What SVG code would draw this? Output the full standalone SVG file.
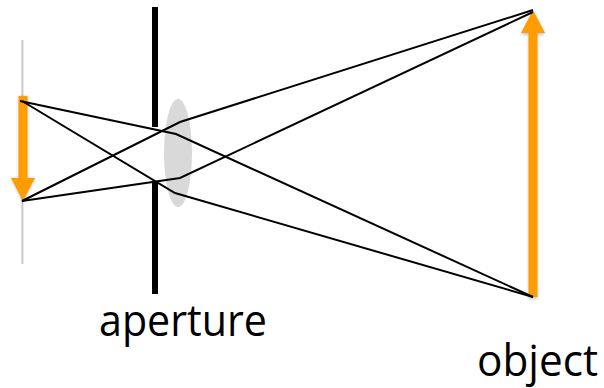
<svg xmlns="http://www.w3.org/2000/svg" width="604" height="388" viewBox="0 0 604 388">
<defs>
<filter id="soft" x="-50%" y="-10%" width="200%" height="120%"><feGaussianBlur stdDeviation="1.5"/></filter>
</defs>
<style>
.ray{fill:none;stroke:#000;stroke-width:2;stroke-linejoin:miter}
.arrow{fill:#ff9c00}
.shadow{fill:#000;opacity:.22;filter:url(#soft)}
.label{font-family:"Open Sans","Noto Sans",sans-serif;font-size:44px;fill:#000}
</style>
<rect width="604" height="388" fill="#fff"/>
<g id="image-plane"><rect x="21.5" y="40" width="1.8" height="224" fill="#c4c4c4"/></g>
<g id="lens"><ellipse cx="178" cy="153" rx="14" ry="54" fill="#d9d9d9"/></g>
<g id="aperture"><rect x="152" y="7" width="6" height="120"/><rect x="152" y="181" width="6" height="113"/></g>
<g id="image-arrow">
<path class="shadow" d="M18.500 96H27.500V178H35L23 203L11 178H18.500Z"/>
<path class="arrow" d="M18.500 96H27.500V178H35L23 201L11 178H18.500Z"/>
</g>
<g id="object-arrow">
<path class="shadow" d="M528.500 299V35H521L533 12L545 35H537.500V299Z"/>
<path class="arrow" d="M528.500 297V33H521L533 10L545 33H537.500V297Z"/>
</g>
<g id="connectors">
<path class="ray" d="M20 101L176 134L533 297"/>
<path class="ray" d="M22 101L175 193L533 297"/>
<path class="ray" d="M22 201L180 122L533 10"/>
<path class="ray" d="M22 201L180 178L533 12"/>
</g>
<g id="label-aperture"><text class="label" x="99" y="336" textLength="168" lengthAdjust="spacingAndGlyphs">aperture</text></g>
<g id="label-object"><text class="label" x="477" y="376" textLength="121" lengthAdjust="spacingAndGlyphs">object</text></g>
</svg>
